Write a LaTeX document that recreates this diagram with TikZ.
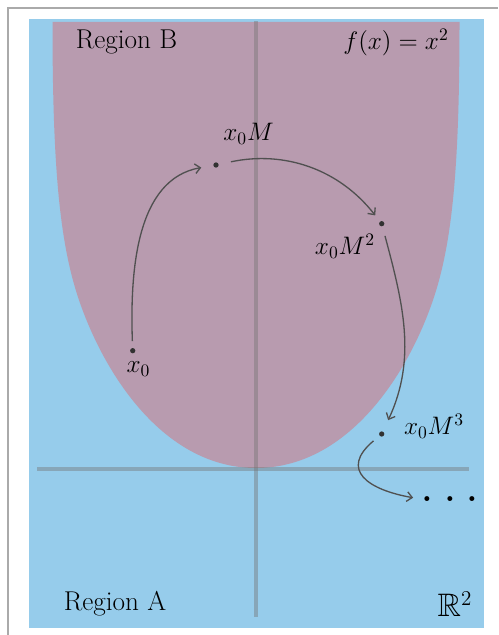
\documentclass[tikz,border=0pt]{standalone}
\usepackage{amsmath, amssymb}
\usepackage{xcolor}
\definecolor{planeblue}{RGB}{150, 204, 235}
\definecolor{regionmauve}{RGB}{184, 155, 175}
\definecolor{arrowgray}{RGB}{80, 80, 80}
\definecolor{dotgray}{RGB}{50, 50, 50}
\definecolor{framegray}{RGB}{170, 170, 170}
\definecolor{axisgray}{RGB}{115, 115, 115}
\usepackage{tikz}
\usetikzlibrary{arrows.meta}

\begin{document}
\begin{tikzpicture}[x=0.02cm, y=0.02cm, >={Straight Barb[length=3pt, width=5.5pt]},
  orbitpt/.style={circle, fill=dotgray, inner sep=0pt, minimum size=3pt},
  lbl/.style={anchor=base, font=\Large, inner sep=0pt},
  regionlbl/.style={anchor=base, font=\fontsize{15.5}{18}\selectfont, inner sep=0pt},
  flow/.style={->, draw=arrowgray, line width=0.75pt},
  axisline/.style={draw=axisgray, opacity=0.42, line width=1.8pt}]
  \useasboundingbox (0,0) rectangle (498,635);
  % page frame
  \draw[framegray, line width=0.85pt] (8,0) -- (8,627) -- (498,627);
  % plane and region above the parabola
  \fill[planeblue] (29,7) rectangle (484,616);
  \fill[regionmauve] (256,167) .. controls (166,167) and (106.4,256.8) .. (80,332)
    .. controls (60.2,388.4) and (52.5,463) .. (52.5,613) -- (459.5,613)
    .. controls (459.5,463) and (451.8,388.4) .. (432,332)
    .. controls (405.6,256.8) and (346,167) .. (256,167) -- cycle;
  % axes
  \draw[axisline] (256,18) -- (256,614);
  \draw[axisline] (37,166) -- (469,166);
  % region labels
  \node[regionlbl] (regB) at (126.5,586) {Region B};
  \node[lbl] (fx) at (396,585) {$f(x) = x^2$};
  \node[regionlbl] (regA) at (115,24.3) {Region A};
  \node[lbl, font=\fontsize{18.5}{20}\selectfont] (R2) at (455,18.3) {$\mathbb{R}^2$};
  % orbit points
  \node[orbitpt] (x0) at (132.7,284.3) {};
  \node[orbitpt] (x0M) at (216,470) {};
  \node[orbitpt] (x0M2) at (381.7,411.3) {};
  \node[orbitpt] (x0M3) at (381.7,201) {};
  \node[lbl] (x0lbl) at (138.5,262.3) {$x_0$};
  \node[lbl] (x0Mlbl) at (248.5,494.3) {$x_0M$};
  \node[lbl] (x0M2lbl) at (345,380) {$x_0M^2$};
  \node[lbl] (x0M3lbl) at (434,200) {$x_0M^3$};
  \node[lbl] (more) at (450,133.5) {\scalebox{2}{$\ldots$}};
  % iteration arrows
  \draw[flow, shorten <=3.8pt, shorten >=6.8pt] (x0) to[out=92, in=190] (x0M);
  \draw[flow, shorten <=7pt, shorten >=4.3pt] (x0M) to[out=12, in=128] (x0M2);
  \draw[flow, shorten <=5.5pt, shorten >=7pt] (x0M2) to[out=-75, in=65] (x0M3);
  \draw[flow, shorten <=4.4pt, shorten >=4.3pt] (x0M3) to[out=220, in=170, looseness=1.8] (more.west);
\end{tikzpicture}
\end{document}
